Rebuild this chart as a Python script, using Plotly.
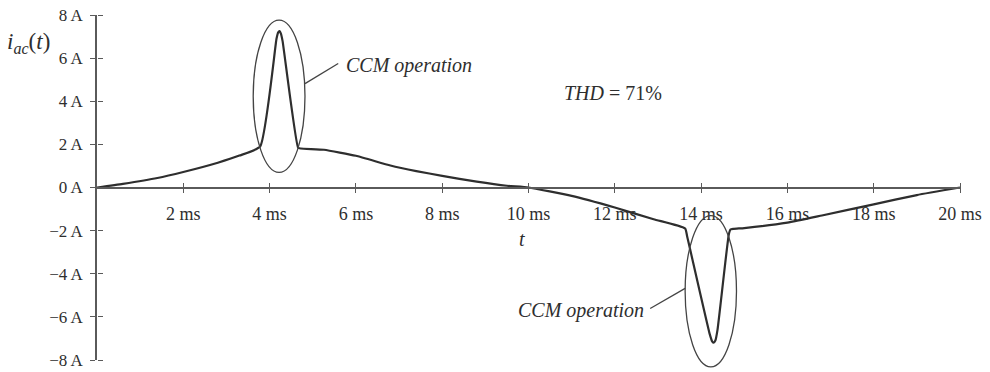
import plotly.graph_objects as go

# ---- data ----
t_ms = [0, 0.6, 1.4, 2.0, 2.8, 3.3, 3.78, 4.16, 4.2, 4.23, 4.26, 4.3, 4.66, 4.72, 5.26, 6.0, 6.8,
        7.4, 8.0, 8.8, 9.5, 10.0, 11.0, 12.0, 12.9, 13.63, 13.68, 14.2, 14.26, 14.29, 14.33, 14.38,
        14.64, 14.68, 14.75, 15.0, 16.0, 16.8, 18.0, 19.0, 20.0]
i_ac = [0, 0.17, 0.44, 0.72, 1.15, 1.48, 1.9, 6.9, 7.2, 7.25, 7.15, 6.8, 1.85, 1.81, 1.75, 1.47, 1.02,
        0.76, 0.54, 0.27, 0.08, 0.0, -0.39, -0.93, -1.47, -1.9, -2.3, -6.8, -7.15, -7.2, -7.1, -6.6,
        -2.2, -1.95, -1.92, -1.88, -1.63, -1.3, -0.78, -0.35, 0.0]

x_tickvals = [2, 4, 6, 8, 10, 12, 14, 16, 18, 20]
x_ticktext = ["2 ms", "4 ms", "6 ms", "8 ms", "10 ms", "12 ms", "14 ms", "16 ms", "18 ms", "20 ms"]
y_tickvals = [-8, -6, -4, -2, 0, 2, 4, 6, 8]
y_ticktext = ["\u22128 A", "\u22126 A", "\u22124 A", "\u22122 A", "0 A", "2 A", "4 A", "6 A", "8 A"]

X_RANGE = [0, 20]
Y_RANGE = [-8, 8]

FONT = "Liberation Serif"
INK = "#2e2e2e"
AXIS = "#5a5a5a"


def py(v):
    return (v - Y_RANGE[0]) / (Y_RANGE[1] - Y_RANGE[0])


def px(v):
    return (v - X_RANGE[0]) / (X_RANGE[1] - X_RANGE[0])


fig = go.Figure()
fig.add_trace(go.Scatter(x=t_ms, y=i_ac, mode="lines", line_shape="spline",
                         line=dict(color=INK, width=2.2, smoothing=0.45),
                         showlegend=False, hoverinfo="skip"))
# invisible trace that makes plotly draw the overlay axes (other halves of the ticks)
fig.add_trace(go.Scatter(x=X_RANGE, y=Y_RANGE, xaxis="x2", yaxis="y2", mode="markers",
                         marker=dict(opacity=0, size=1), showlegend=False, hoverinfo="skip"))

common_x = dict(range=X_RANGE, showgrid=False, zeroline=False, tickvals=x_tickvals,
                tickcolor=AXIS, tickwidth=1.3, ticklen=5, domain=[0, 1], automargin=False)
common_y = dict(range=Y_RANGE, showgrid=False, zeroline=False, tickvals=y_tickvals,
                tickcolor=AXIS, tickwidth=1.3, ticklen=5, domain=[0, 1], automargin=False)

fig.update_layout(
    width=990, height=372, autosize=False,
    margin=dict(l=97, r=30, t=15, b=12, pad=0),
    paper_bgcolor="white", plot_bgcolor="white",
    font=dict(family=FONT, color=INK, size=18),
    xaxis=dict(**common_x, anchor="free", position=0.5, side="bottom",
               showline=True, linecolor=AXIS, linewidth=1.5,
               ticks="outside", ticktext=x_ticktext, ticklabelstandoff=5,
               tickfont=dict(family=FONT, size=18, color=INK)),
    xaxis2=dict(**common_x, anchor="free", position=0.5, side="top", overlaying="x",
                showline=False, ticks="outside", showticklabels=False, visible=True),
    yaxis=dict(**common_y, anchor="x", side="left",
               showline=True, linecolor=AXIS, linewidth=1.5,
               ticks="outside", ticktext=y_ticktext, ticklabelstandoff=4,
               tickfont=dict(family=FONT, size=17, color=INK)),
    yaxis2=dict(**common_y, anchor="free", position=0, side="right", overlaying="y",
                showline=False, ticks="outside", showticklabels=False, visible=True),
)

# ellipses marking CCM operation
ellipses = [(3.62, 4.82, 0.70, 7.76), (13.63, 14.82, -8.32, -1.30)]
for x0, x1, y0, y1 in ellipses:
    fig.add_shape(type="circle", xref="paper", yref="paper",
                  x0=px(x0), x1=px(x1), y0=py(y0), y1=py(y1),
                  line=dict(color="#444444", width=1.3))

# pointer lines
pointers = [((4.82, 4.82), (5.59, 5.75)), ((12.82, -5.61), (13.63, -4.68))]
for (xa, ya), (xb, yb) in pointers:
    fig.add_shape(type="line", xref="paper", yref="paper",
                  x0=px(xa), y0=py(ya), x1=px(xb), y1=py(yb),
                  line=dict(color="#444444", width=1.3))

ann_font = dict(family=FONT, size=20, color=INK)
fig.add_annotation(x=px(5.72), y=py(5.67), xref="paper", yref="paper", xanchor="left",
                   yanchor="middle", text="<i>CCM operation</i>", showarrow=False, font=ann_font)
fig.add_annotation(x=px(12.72), y=py(-5.70), xref="paper", yref="paper", xanchor="right",
                   yanchor="middle", text="<i>CCM operation</i>", showarrow=False, font=ann_font)
fig.add_annotation(x=px(10.78), y=py(4.36), xref="paper", yref="paper", xanchor="left",
                   yanchor="middle", text="<i>THD</i> = 71%", showarrow=False, font=ann_font)
fig.add_annotation(x=px(9.85), y=py(-2.37), xref="paper", yref="paper", xanchor="center",
                   yanchor="middle", text="<i>t</i>", showarrow=False, font=ann_font)
fig.add_annotation(x=-0.052, y=0.919, xref="paper", yref="paper", xanchor="right",
                   yanchor="middle", text="<i>i<sub>ac</sub></i>(<i>t</i>)", showarrow=False,
                   font=dict(family=FONT, size=23, color=INK))

fig.write_html("out.html", config={"displayModeBar": False},
               post_script="document.body.style.margin='0';document.body.style.overflow='hidden';")
